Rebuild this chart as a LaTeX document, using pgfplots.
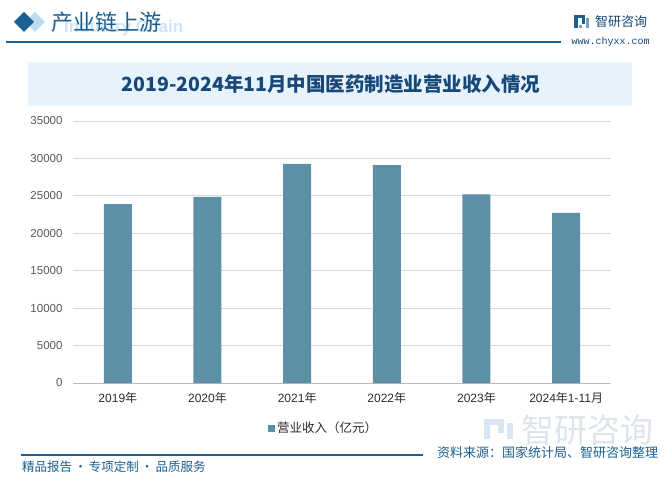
\documentclass[border=0pt]{standalone}
\usepackage{fontspec}
\setmainfont{Liberation Sans}
\newfontfamily\cjk{Noto Sans CJK SC}
\newfontfamily\mono{Liberation Mono}
\usepackage{pgfplots}
\pgfplotsset{compat=1.18}
\definecolor{barc}{RGB}{93,144,167}
\definecolor{hdr}{RGB}{27,95,145}
\definecolor{titlec}{RGB}{24,72,120}
\definecolor{band}{RGB}{230,243,252}
\definecolor{ghost}{RGB}{205,228,245}
\definecolor{lightdia}{RGB}{190,220,240}
\definecolor{gridc}{RGB}{217,217,217}
\definecolor{labgray}{RGB}{89,89,89}
\definecolor{xlab}{RGB}{45,45,45}
\definecolor{wm}{RGB}{222,228,234}
\definecolor{wmblue}{RGB}{215,230,242}
\begin{document}
\begin{tikzpicture}[x=1pt,y=1pt]
\useasboundingbox (0,0) rectangle (672,483);
\fill[white] (0,0) rectangle (672,483);
% header
\fill[lightdia] (25,461) -- (35,471) -- (45,461) -- (35,451) -- cycle;
\fill[hdr] (14,461) -- (24,471) -- (34,461) -- (24,451) -- cycle;
\node[anchor=west, text=ghost, font=\bfseries\fontsize{17}{17}\selectfont, inner sep=0] at (64,455) {Industry Chain};
\node[anchor=west, text=hdr, font=\cjk\fontsize{22}{22}\selectfont, inner sep=0] at (51,461) {产业链上游};
\draw[hdr, line width=1.5] (6,441) -- (561,441);
% logo
\fill[hdr] (574,455) rectangle (577.5,468);
\fill[hdr] (577.5,464.5) rectangle (585,468);
\fill[hdr] (581.5,459) rectangle (585,464.5);
\fill[hdr!60] (579,455) rectangle (582,458);
\fill[hdr!60] (586,455) rectangle (589,465);
\node[anchor=west, text=titlec, font=\cjk\fontsize{13}{13}\selectfont, inner sep=0] at (595,461) {智研咨询};
\node[text=titlec, font=\mono\fontsize{10}{10}\selectfont, inner sep=0] at (610.5,441) {www.chyxx.com};
% title band
\fill[band] (28,377) rectangle (632,421);
\node[text=titlec, font=\cjk\bfseries\fontsize{19.5}{19.5}\selectfont, inner sep=0] at (331,399) {2019-2024年11月中国医药制造业营业收入情况};
% bottom watermark
\fill[wmblue] (484,44) rectangle (490,64);
\fill[wmblue] (490,58) rectangle (504,64);
\fill[wmblue] (498,50) rectangle (504,58);
\fill[wmblue] (507,44) rectangle (513,60);
\node[anchor=west, text=wm, font=\cjk\fontsize{33}{33}\selectfont, inner sep=0] at (521,53) {智研咨询};
% footer
\draw[hdr, line width=1.2] (21,28) -- (423,28);
\node[anchor=west, text=hdr, font=\cjk\fontsize{13}{13}\selectfont, inner sep=0] at (437,30) {资料来源：国家统计局、智研咨询整理};
\node[anchor=west, text=hdr, font=\cjk\fontsize{12.5}{12.5}\selectfont, inner sep=0] at (22,16) {精品报告\,·\,专项定制\,·\,品质服务};
% chart
\begin{axis}[at={(73pt,100pt)}, anchor=south west, width=538pt, height=262pt, scale only axis,
  ymin=0, ymax=35000, ytick={0,5000,...,35000}, scaled y ticks=false,
  xmin=-0.5, xmax=5.5, xtick=data,
  xticklabels={2019{\cjk 年},2020{\cjk 年},2021{\cjk 年},2022{\cjk 年},2023{\cjk 年},2024{\cjk 年}1-11{\cjk 月}},
  ybar, bar width=28pt,
  axis x line*=bottom, axis y line*=left,
  y axis line style={draw=none}, x axis line style={draw=gridc!85!black, line width=0.8pt},
  major tick length=0pt,
  ymajorgrids, grid style={gridc, line width=0.8pt},
  yticklabel={\pgfmathprintnumber[fixed,precision=0,1000 sep={},assume math mode=true]{\tick}},
  /pgf/number format/1000 sep={}, /pgf/number format/assume math mode=true,
  yticklabel style={font=\fontsize{11.5}{11.5}\selectfont, text=labgray, xshift=-7pt},
  xticklabel style={font=\fontsize{12}{12}\selectfont, text=xlab, yshift=-6pt},
  legend style={at={(0.466,-0.172)}, anchor=center, draw=none, fill=none,
    font=\cjk\fontsize{12.5}{12.5}\selectfont, text=xlab},
  legend image code/.code={\fill[barc] (0pt,-3.5pt) rectangle (7pt,3.5pt);},
]
\addplot[fill=barc, draw=none] coordinates {(0,23908.6) (1,24857.3) (2,29288.5) (3,29111.4) (4,25205.7) (5,22726.7)};
\addlegendentry{营业收入（亿元）}
\end{axis}
\end{tikzpicture}
\end{document}
